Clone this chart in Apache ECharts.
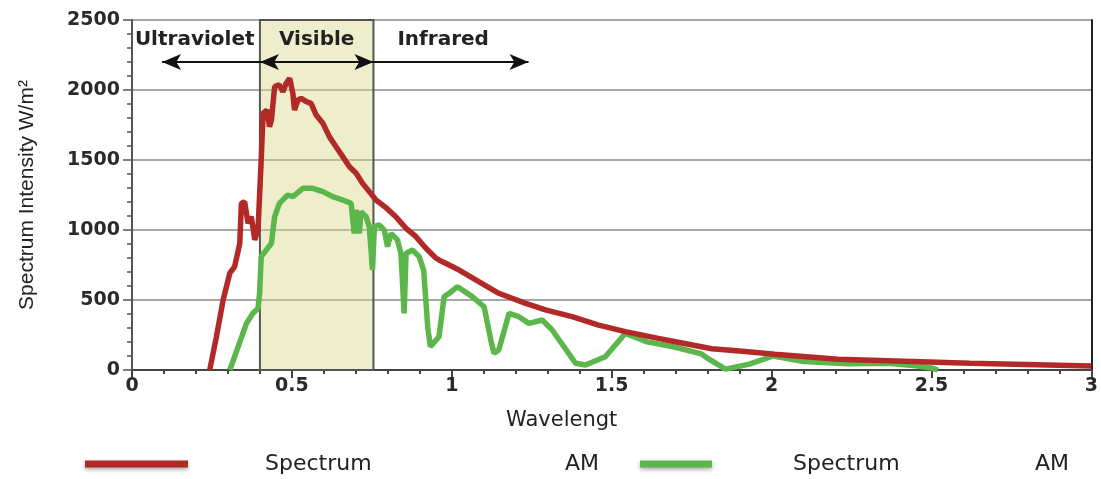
<!DOCTYPE html>
<html>
<head>
<meta charset="utf-8">
<script src="https://cdn.jsdelivr.net/npm/echarts@6/dist/echarts.min.js"></script>
<style>
  html, body { margin: 0; padding: 0; background: #fff; }
  #chart { width: 1101px; height: 479px; }
</style>
</head>
<body>
<div id="chart"></div>
<script>
// AM0 (red) spectrum, wavelength in µm and intensity
var amZeroWl = [0.243, 0.264, 0.285, 0.306, 0.321, 0.337, 0.342, 0.352, 0.363, 0.373, 0.384, 0.394,
  0.404, 0.41, 0.422, 0.43, 0.436, 0.446, 0.461, 0.472, 0.482, 0.493, 0.503, 0.508, 0.519, 0.529,
  0.545, 0.56, 0.576, 0.597, 0.617, 0.638, 0.659, 0.68, 0.701, 0.721, 0.742, 0.763, 0.794, 0.825,
  0.857, 0.888, 0.919, 0.95, 0.96, 1.023, 1.075, 1.147, 1.231, 1.293, 1.376, 1.459, 1.543, 1.646,
  1.675, 1.813, 1.9, 2.01, 2.208, 2.416, 2.62, 2.83, 3.0];
var amZeroVal = [0, 238, 500, 693, 738, 905, 1190, 1202, 1048, 1095, 929, 1000,
  1500, 1833, 1857, 1738, 1786, 2024, 2036, 1988, 2048, 2083, 1976, 1857, 1929, 1940,
  1917, 1905, 1821, 1762, 1667, 1595, 1524, 1452, 1405, 1333, 1274, 1214, 1160, 1095,
  1012, 952, 869, 800, 786, 714, 643, 548, 476, 429, 381, 321, 274, 226,
  213, 152, 135, 112, 76, 62, 48, 38, 28];

// AM1.5 (green) spectrum
var amOneWl = [0.306, 0.332, 0.358, 0.378, 0.394, 0.399, 0.404, 0.42, 0.436, 0.446, 0.461, 0.487,
  0.503, 0.534, 0.565, 0.597, 0.628, 0.659, 0.685, 0.69, 0.695, 0.701, 0.711, 0.716, 0.732, 0.742,
  0.752, 0.758, 0.773, 0.789, 0.799, 0.81, 0.83, 0.841, 0.851, 0.857, 0.877, 0.898, 0.912, 0.925,
  0.933, 0.96, 0.976, 0.992, 1.018, 1.064, 1.101, 1.122, 1.132, 1.147, 1.179, 1.21, 1.241, 1.283,
  1.314, 1.387, 1.418, 1.48, 1.543, 1.611, 1.696, 1.781, 1.803, 1.856, 1.93, 2.005, 2.101, 2.239,
  2.364, 2.45, 2.499, 2.52];
var amOneVal = [0, 167, 333, 405, 440, 548, 810, 857, 905, 1095, 1190, 1250,
  1238, 1298, 1298, 1274, 1238, 1214, 1190, 1180, 976, 1143, 976, 1131, 1095, 1024,
  714, 1024, 1036, 1000, 881, 976, 929, 833, 405, 833, 857, 810, 714, 300,
  167, 238, 524, 548, 595, 524, 452, 214, 119, 143, 405, 381, 333, 357,
  286, 48, 36, 95, 262, 201, 164, 115, 79, 6, 42, 100, 60, 45,
  48, 30, 15, 0];

var xTicks = [0, 0.5, 1, 1.5, 2, 2.5, 3];
var yTicks = [0, 500, 1000, 1500, 2000, 2500];

// spectral bands: edges and label anchors
var visibleBand = [0.4, 0.755];
var arrowY = 2200;
var uvArrowEnd = 0.094;
var irArrowEnd = 1.24;
var bandLabelY = 2357;

function zip(xs, ys) {
  return xs.map(function (x, i) { return [x, ys[i]]; });
}

var chart = echarts.init(document.getElementById('chart'));

var boldTick = { fontFamily: 'DejaVu Sans', fontWeight: 'bold', fontSize: 19, color: '#2a2a2a' };
var bandText = { fontFamily: 'DejaVu Sans', fontWeight: 'bold', fontSize: 20, color: '#222' };
var legendRich = function (gap, width) {
  return {
    fontFamily: 'DejaVu Sans', fontSize: 22, color: '#222',
    rich: {
      g: { width: gap },
      a: { width: width, fontFamily: 'DejaVu Sans', fontSize: 22, color: '#222' },
      b: { fontFamily: 'DejaVu Sans', fontSize: 22, color: '#222' }
    }
  };
};

var option = {
  animation: false,
  backgroundColor: '#fff',
  grid: { left: 132, right: 7, top: 20, bottom: 109 },
  legend: [
    {
      data: ['Spectrum AM0'], left: 85, top: 453, padding: 0,
      icon: 'rect', itemWidth: 103, itemHeight: 7,
      itemStyle: { shadowBlur: 4, shadowColor: 'rgba(0,0,0,0.35)', shadowOffsetY: 2 },
      textStyle: legendRich(72, 300),
      formatter: function () { return '{g|}{a|Spectrum}{b|AM}'; }
    },
    {
      data: ['Spectrum AM1.5'], left: 640, top: 453, padding: 0,
      icon: 'rect', itemWidth: 72, itemHeight: 7,
      itemStyle: { shadowBlur: 4, shadowColor: 'rgba(0,0,0,0.35)', shadowOffsetY: 2 },
      textStyle: legendRich(76, 242),
      formatter: function () { return '{g|}{a|Spectrum}{b|AM}'; }
    }
  ],
  xAxis: {
    type: 'value', min: 0, max: 3, interval: 0.5,
    name: 'Wavelengt', nameLocation: 'middle', nameGap: 40,
    nameTextStyle: { fontFamily: 'DejaVu Sans', fontSize: 21, color: '#222', padding: [0, 100, 0, 0] },
    axisLine: { lineStyle: { color: '#444', width: 2 } },
    axisTick: { length: 8, lineStyle: { color: '#444', width: 2 } },
    minorTick: { show: true, splitNumber: 5, length: 4, lineStyle: { color: '#444', width: 2 } },
    axisLabel: Object.assign({ margin: 7, formatter: function (v) { return xTicks.indexOf(v) >= 0 ? String(v) : ''; } }, boldTick),
    splitLine: { show: false }
  },
  yAxis: [
    {
      type: 'value', min: 0, max: 2500, interval: 500,
      name: 'Spectrum Intensity W/m²', nameLocation: 'middle', nameGap: 94,
      nameTextStyle: { fontFamily: 'Liberation Sans', fontSize: 21, color: '#222' },
      axisLine: { show: true, lineStyle: { color: '#555', width: 2 } },
      axisTick: { show: true, length: 9, lineStyle: { color: '#555', width: 1.5 } },
      minorTick: { show: true, splitNumber: 5, length: 5, lineStyle: { color: '#555', width: 1.5 } },
      axisLabel: Object.assign({ margin: 12, formatter: function (v) { return yTicks.indexOf(v) >= 0 ? String(v) : ''; } }, boldTick),
      splitLine: { show: true, lineStyle: { color: '#8a8a8a', width: 1.5 } }
    },
    {
      type: 'value', min: 0, max: 2500, position: 'right',
      axisLine: { show: true, lineStyle: { color: '#222', width: 2 } },
      axisTick: { show: false }, axisLabel: { show: false }, splitLine: { show: false }
    }
  ],
  series: [
    {
      name: 'Spectrum AM1.5', type: 'line', z: 2,
      data: zip(amOneWl, amOneVal),
      showSymbol: false, symbol: 'none',
      lineStyle: { color: '#5bb64b', width: 5.5 },
      itemStyle: { color: '#5bb64b' },
      markArea: {
        silent: true,
        itemStyle: { color: 'rgba(218,218,145,0.45)', borderColor: '#555', borderWidth: 2 },
        data: [[{ xAxis: visibleBand[0] }, { xAxis: visibleBand[1] }]]
      },
      markLine: {
        silent: true, symbol: ['none', 'arrow'], symbolSize: [12, 19],
        label: { show: false },
        lineStyle: { color: '#111', width: 2, type: 'solid' },
        data: [
          [{ coord: [visibleBand[0], arrowY] }, { coord: [uvArrowEnd, arrowY] }],
          [{ coord: [visibleBand[0], arrowY], symbol: 'arrow' }, { coord: [visibleBand[1], arrowY] }],
          [{ coord: [visibleBand[1], arrowY] }, { coord: [irArrowEnd, arrowY] }]
        ]
      },
      markPoint: {
        silent: true, symbol: 'circle', symbolSize: 0,
        data: [
          { coord: [0.009, bandLabelY], label: Object.assign({ show: true, position: 'right', distance: 0, formatter: 'Ultraviolet' }, bandText) },
          { coord: [(visibleBand[0] + visibleBand[1]) / 2, bandLabelY], label: Object.assign({ show: true, position: 'inside', formatter: 'Visible' }, bandText) },
          { coord: [0.83, bandLabelY], label: Object.assign({ show: true, position: 'right', distance: 0, formatter: 'Infrared' }, bandText) }
        ]
      }
    },
    {
      name: 'Spectrum AM0', type: 'line', z: 3,
      data: zip(amZeroWl, amZeroVal),
      showSymbol: false, symbol: 'none',
      lineStyle: { color: '#b12a27', width: 5.5 },
      itemStyle: { color: '#b12a27' }
    }
  ]
};

option && chart.setOption(option);
</script>
</body>
</html>
